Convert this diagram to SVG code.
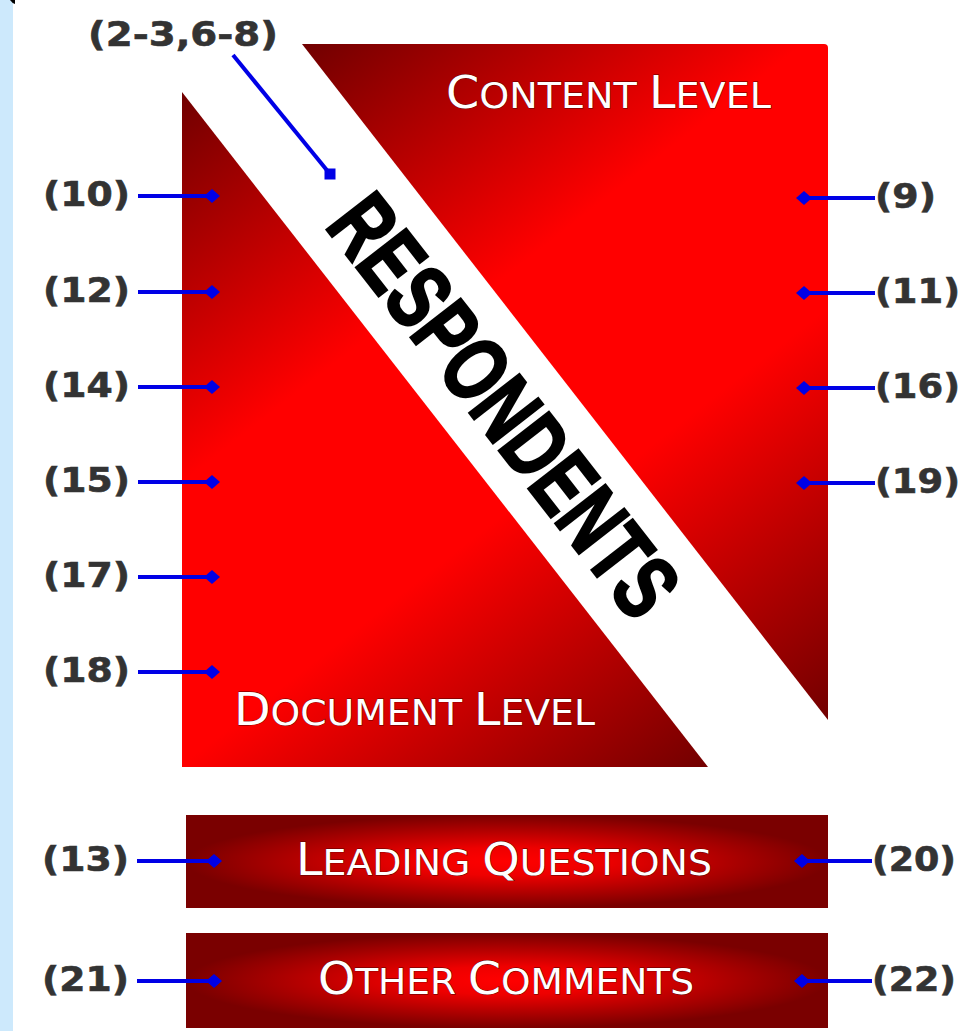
<svg xmlns="http://www.w3.org/2000/svg" width="980" height="1031" viewBox="0 0 980 1031">
<defs>
  <linearGradient id="gUp" gradientUnits="userSpaceOnUse" x1="302" y1="44" x2="828" y2="720">
    <stop offset="0" stop-color="#700000"/>
    <stop offset="0.36" stop-color="#ff0000"/>
    <stop offset="0.62" stop-color="#ff0000"/>
    <stop offset="1" stop-color="#720000"/>
  </linearGradient>
  <linearGradient id="gLow" gradientUnits="userSpaceOnUse" x1="182" y1="92" x2="708" y2="767">
    <stop offset="0" stop-color="#700000"/>
    <stop offset="0.36" stop-color="#ff0000"/>
    <stop offset="0.62" stop-color="#ff0000"/>
    <stop offset="1" stop-color="#720000"/>
  </linearGradient>
  <radialGradient id="gBox" cx="0.5" cy="0.5" r="0.5">
    <stop offset="0" stop-color="#ff0000"/>
    <stop offset="0.3" stop-color="#ee0000"/>
    <stop offset="1" stop-color="#7a0000"/>
  </radialGradient>
  <marker id="dia" markerUnits="userSpaceOnUse" markerWidth="18" markerHeight="16" refX="9" refY="8" orient="auto" viewBox="0 0 18 16">
    <path d="M1,8 L9,1 L17,8 L9,15 Z" fill="#0000e6"/>
  </marker>
  <marker id="sq" markerUnits="userSpaceOnUse" markerWidth="12" markerHeight="12" refX="6" refY="6" orient="0" viewBox="0 0 12 12">
    <rect x="0.5" y="0.5" width="11" height="11" fill="#0000e6"/>
  </marker>
  <style>
    .lbl { font-family: "DejaVu Sans", Verdana, sans-serif; font-weight: bold; font-size: 34px; fill: #333333; stroke: #333333; stroke-width: 0.6px; }
    .ttl { font-family: "DejaVu Sans", Verdana, sans-serif; fill: #ffffff; stroke: #5a0000; stroke-width: 0.8px; paint-order: stroke; }
    .con { stroke: #0000e6; stroke-width: 4; fill: none; }
    .resp { font-family: "Liberation Sans", Arial, sans-serif; font-weight: bold; font-size: 92px; fill: #000000; stroke: #000000; stroke-width: 2.5px; }
  </style>
</defs>

<rect x="0" y="0" width="980" height="1031" fill="#ffffff"/>
<rect x="0" y="0" width="13" height="1031" fill="#cde9fc"/>
<path d="M10,0 L15,0 L15,4 Q12,3 10,0 Z" fill="#000000"/>

<g id="content-level">
  <path d="M302,44 L824,44 Q828,44 828,48 L828,720 Z" fill="url(#gUp)"/>
  <text class="ttl" x="446" y="108" font-size="36" textLength="325" lengthAdjust="spacingAndGlyphs"><tspan font-size="45">C</tspan>ONTENT <tspan font-size="45">L</tspan>EVEL</text>
</g>

<g id="document-level">
  <path d="M182,92 L708,767 L182,767 Z" fill="url(#gLow)"/>
  <text class="ttl" x="234" y="725" font-size="35" textLength="361" lengthAdjust="spacingAndGlyphs"><tspan font-size="44">D</tspan>OCUMENT <tspan font-size="44">L</tspan>EVEL</text>
</g>

<g id="respondents">
  <text class="resp" font-weight="bold" transform="translate(505,405) rotate(52.1)" x="0" y="33" text-anchor="middle" textLength="505" lengthAdjust="spacingAndGlyphs">RESPONDENTS</text>
</g>

<g id="leading-questions">
  <rect x="186" y="815" width="642" height="93" fill="url(#gBox)"/>
  <text class="ttl" x="296" y="875" font-size="35" textLength="416" lengthAdjust="spacingAndGlyphs"><tspan font-size="44">L</tspan>EADING <tspan font-size="44">Q</tspan>UESTIONS</text>
</g>

<g id="other-comments">
  <rect x="186" y="933" width="642" height="95" fill="url(#gBox)"/>
  <text class="ttl" x="318" y="994" font-size="35" textLength="376" lengthAdjust="spacingAndGlyphs"><tspan font-size="44">O</tspan>THER <tspan font-size="44">C</tspan>OMMENTS</text>
</g>

<g id="labels">
  <g id="lbl-2-3-6-8"><text class="lbl" x="88" y="46" textLength="190" lengthAdjust="spacingAndGlyphs">(2-3,6-8)</text></g>
  <g id="lbl-10"><text class="lbl" x="43" y="206" textLength="87" lengthAdjust="spacingAndGlyphs">(10)</text></g>
  <g id="lbl-12"><text class="lbl" x="43" y="302" textLength="87" lengthAdjust="spacingAndGlyphs">(12)</text></g>
  <g id="lbl-14"><text class="lbl" x="43" y="397" textLength="87" lengthAdjust="spacingAndGlyphs">(14)</text></g>
  <g id="lbl-15"><text class="lbl" x="43" y="492" textLength="87" lengthAdjust="spacingAndGlyphs">(15)</text></g>
  <g id="lbl-17"><text class="lbl" x="43" y="587" textLength="87" lengthAdjust="spacingAndGlyphs">(17)</text></g>
  <g id="lbl-18"><text class="lbl" x="43" y="682" textLength="87" lengthAdjust="spacingAndGlyphs">(18)</text></g>
  <g id="lbl-13"><text class="lbl" x="42" y="871" textLength="87" lengthAdjust="spacingAndGlyphs">(13)</text></g>
  <g id="lbl-21"><text class="lbl" x="42" y="991" textLength="87" lengthAdjust="spacingAndGlyphs">(21)</text></g>
  <g id="lbl-9"><text class="lbl" x="875" y="208" textLength="61" lengthAdjust="spacingAndGlyphs">(9)</text></g>
  <g id="lbl-11"><text class="lbl" x="875" y="303" textLength="85" lengthAdjust="spacingAndGlyphs">(11)</text></g>
  <g id="lbl-16"><text class="lbl" x="875" y="398" textLength="85" lengthAdjust="spacingAndGlyphs">(16)</text></g>
  <g id="lbl-19"><text class="lbl" x="875" y="493" textLength="85" lengthAdjust="spacingAndGlyphs">(19)</text></g>
  <g id="lbl-20"><text class="lbl" x="872" y="871" textLength="84" lengthAdjust="spacingAndGlyphs">(20)</text></g>
  <g id="lbl-22"><text class="lbl" x="872" y="991" textLength="84" lengthAdjust="spacingAndGlyphs">(22)</text></g>
</g>

<g id="connectors">
  <line class="con" x1="233" y1="55" x2="330" y2="174" marker-end="url(#sq)"/>
  <line class="con" x1="138" y1="196" x2="212" y2="196" marker-end="url(#dia)"/>
  <line class="con" x1="138" y1="292" x2="212" y2="292" marker-end="url(#dia)"/>
  <line class="con" x1="138" y1="387" x2="212" y2="387" marker-end="url(#dia)"/>
  <line class="con" x1="138" y1="482" x2="212" y2="482" marker-end="url(#dia)"/>
  <line class="con" x1="138" y1="577" x2="212" y2="577" marker-end="url(#dia)"/>
  <line class="con" x1="138" y1="672" x2="212" y2="672" marker-end="url(#dia)"/>
  <line class="con" x1="137" y1="861" x2="214" y2="861" marker-end="url(#dia)"/>
  <line class="con" x1="137" y1="981" x2="214" y2="981" marker-end="url(#dia)"/>
  <line class="con" x1="875" y1="198" x2="804" y2="198" marker-end="url(#dia)"/>
  <line class="con" x1="875" y1="293" x2="804" y2="293" marker-end="url(#dia)"/>
  <line class="con" x1="875" y1="388" x2="804" y2="388" marker-end="url(#dia)"/>
  <line class="con" x1="875" y1="483" x2="804" y2="483" marker-end="url(#dia)"/>
  <line class="con" x1="872" y1="861" x2="802" y2="861" marker-end="url(#dia)"/>
  <line class="con" x1="872" y1="981" x2="802" y2="981" marker-end="url(#dia)"/>
</g>
</svg>
